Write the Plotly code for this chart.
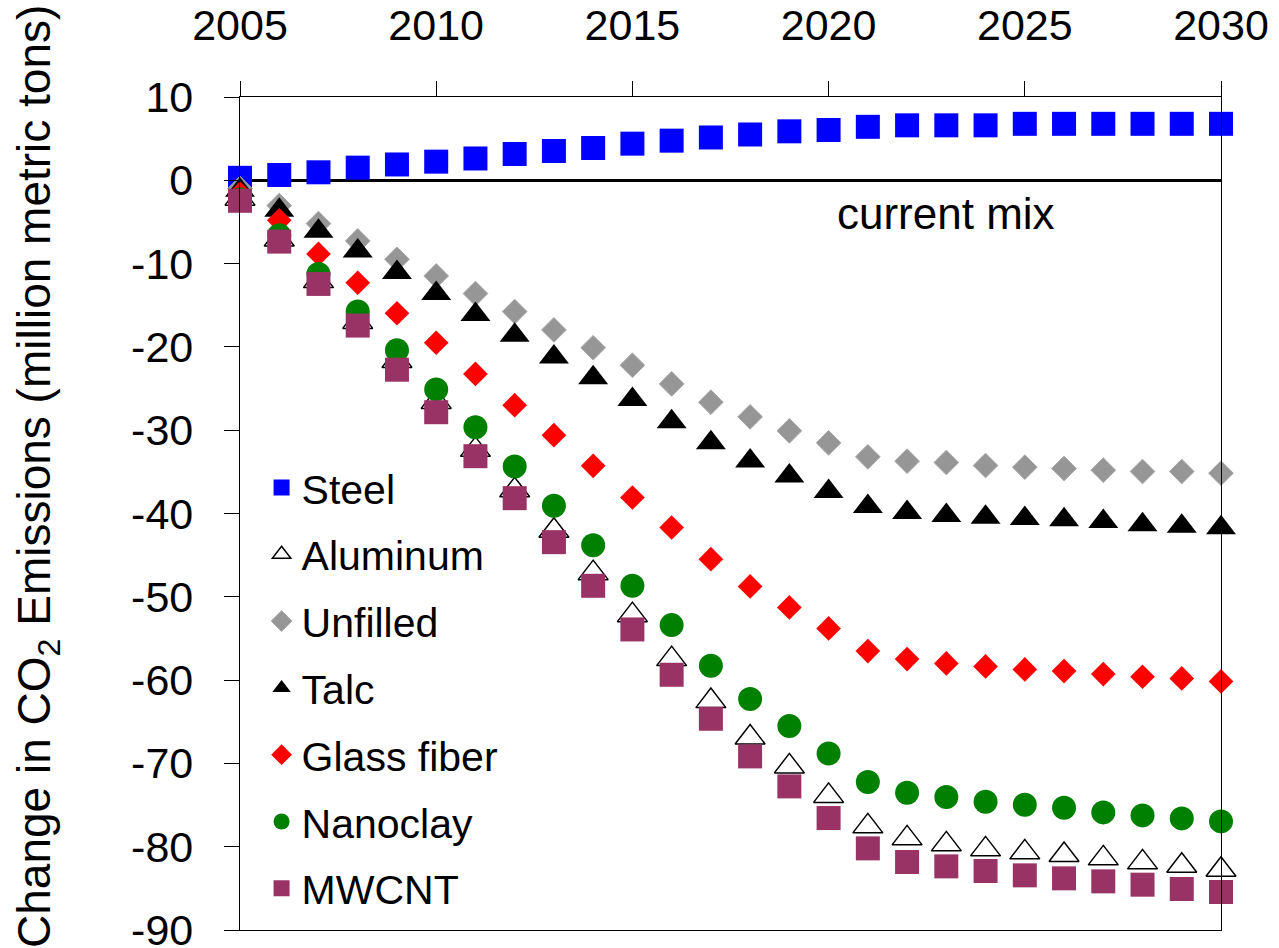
import plotly.graph_objects as go

years = list(range(2005, 2031))

steel = [0.3, 0.64, 0.96, 1.52, 1.9, 2.24, 2.62, 3.16, 3.52, 3.88, 4.4, 4.76, 5.14, 5.5,
         5.88, 6.04, 6.42, 6.6, 6.6, 6.6, 6.78, 6.78, 6.78, 6.78, 6.78, 6.78]
aluminum = [-2.2, -7.1, -12.1, -17.0, -21.7, -26.6, -32.36, -37.2, -42.08, -47.16, -52.2,
            -57.48, -62.52, -66.9, -70.36, -73.9, -77.56, -79.0, -79.72, -80.32, -80.68,
            -81.0, -81.4, -81.88, -82.28, -82.76]
unfilled = [-1.0, -3.04, -5.2, -7.28, -9.48, -11.48, -13.6, -15.76, -17.96, -20.1, -22.2,
            -24.44, -26.64, -28.4, -30.08, -31.52, -33.2, -33.72, -33.88, -34.24, -34.44,
            -34.6, -34.8, -34.96, -34.96, -35.16]
talc = [-1.2, -3.6, -6.12, -8.48, -11.08, -13.6, -16.1, -18.6, -21.2, -23.7, -26.3, -29.0,
        -31.5, -33.7, -35.5, -37.36, -39.16, -39.88, -40.24, -40.44, -40.6, -40.76, -40.96,
        -41.36, -41.52, -41.72]
glass_fiber = [-1.6, -4.8, -8.84, -12.3, -15.96, -19.5, -23.24, -27.0, -30.6, -34.28, -38.08,
               -41.68, -45.48, -48.76, -51.28, -53.8, -56.52, -57.48, -58.0, -58.36, -58.72,
               -58.92, -59.28, -59.6, -59.8, -60.16]
nanoclay = [-2.3, -6.6, -11.24, -15.76, -20.4, -25.1, -29.64, -34.36, -39.08, -43.8, -48.68,
            -53.4, -58.28, -62.28, -65.52, -68.8, -72.24, -73.52, -74.04, -74.6, -74.96,
            -75.32, -75.88, -76.24, -76.6, -76.96]
mwcnt = [-2.46, -7.36, -12.44, -17.44, -22.74, -27.84, -33.12, -38.16, -43.44, -48.68, -53.92,
         -59.36, -64.64, -69.16, -72.76, -76.56, -80.2, -81.84, -82.36, -82.92, -83.44, -83.8,
         -84.16, -84.56, -85.08, -85.44]

series_names = ["Steel", "Aluminum", "Unfilled", "Talc", "Glass fiber", "Nanoclay", "MWCNT"]
series_values = [steel, aluminum, unfilled, talc, glass_fiber, nanoclay, mwcnt]

y_tick_vals = [10, 0, -10, -20, -30, -40, -50, -60, -70, -80, -90]
y_tick_text = ["10", "0", "-10", "-20", "-30", "-40", "-50", "-60", "-70", "-80", "-90"]
x_tick_vals = [2005, 2010, 2015, 2020, 2025, 2030]

styles = {
    "Steel": dict(symbol="square", color="#0000FF", size=24, line=dict(width=0)),
    "Aluminum": dict(symbol="triangle-up", color="white", size=26,
                     line=dict(color="black", width=1.5)),
    "Unfilled": dict(symbol="diamond", color="#969696", size=19,
                     line=dict(color="#A8A8A8", width=1)),
    "Talc": dict(symbol="triangle-up", color="black", size=26, line=dict(width=0)),
    "Glass fiber": dict(symbol="diamond", color="#FF0000", size=19, line=dict(width=0)),
    "Nanoclay": dict(symbol="circle", color="#008000", size=24, line=dict(width=0)),
    "MWCNT": dict(symbol="square", color="#993366", size=24, line=dict(width=0)),
}

FONT = "Liberation Sans, Arial, sans-serif"

fig = go.Figure()
for name, vals in zip(series_names, series_values):
    fig.add_trace(go.Scatter(
        x=years, y=vals, mode="markers", name=name,
        legendgroup=name,
        marker=styles[name], cliponaxis=False,
    ))

fig.add_annotation(x=2023, y=-4, xref="x", yref="y", text="current mix",
                   showarrow=False, font=dict(family=FONT, size=44, color="black"))

fig.add_annotation(x=-0.207, y=0.545, xref="paper", yref="paper",
                   text="Change in CO<sub>2</sub> Emissions (million metric tons)",
                   textangle=-90, showarrow=False, xanchor="center", yanchor="middle",
                   font=dict(family=FONT, size=46, color="black"))

fig.update_layout(
    width=1279, height=948,
    margin=dict(l=240, r=58, t=97, b=18),
    paper_bgcolor="white", plot_bgcolor="white",
    font=dict(family=FONT, color="black"),
    legend=dict(x=0.022, y=0.571, xanchor="left", yanchor="top",
                bgcolor="rgba(255,255,255,0)", font=dict(family=FONT, size=41),
                tracegroupgap=10.5, itemsizing="trace"),
    xaxis=dict(side="top", range=[2005, 2030], tickvals=x_tick_vals,
               showgrid=False, zeroline=False, showline=True, linecolor="black",
               linewidth=1.3, mirror=True, ticks="outside", ticklen=15, tickcolor="black",
               tickwidth=1, tickfont=dict(family=FONT, size=43), ticklabelstandoff=24,
               automargin=False, ticklabeloverflow="allow"),
    yaxis=dict(range=[-90, 10], tickvals=y_tick_vals, ticktext=y_tick_text, showgrid=False,
               zeroline=True, zerolinecolor="black", zerolinewidth=2.5,
               showline=True, linecolor="black", linewidth=1.3, mirror=True,
               ticks="outside", ticklen=15, tickcolor="black", tickwidth=1,
               tickfont=dict(family=FONT, size=43), ticklabelstandoff=22,
               automargin=False, ticklabeloverflow="allow"),
)

fig.write_html("out.html")
